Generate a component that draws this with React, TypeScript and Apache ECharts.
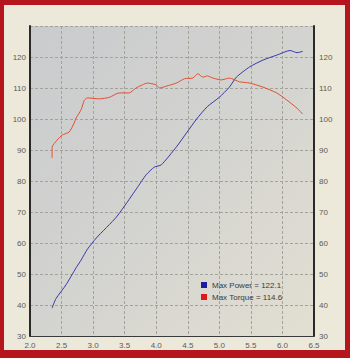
import React, { useEffect, useRef } from "react";
import * as echarts from "echarts";

const rpm = [2.35, 2.41, 2.57, 2.73, 2.81, 2.91, 3.05, 3.37, 3.62, 3.78, 3.84, 3.97, 4.08, 4.32, 4.48, 4.64, 4.81, 5.0, 5.16, 5.27, 5.48, 5.69, 5.91, 6.12, 6.23, 6.32];
const power = [39, 42, 46.5, 52, 54.5, 58, 61.6, 68.4, 75.5, 80.3, 82, 84.5, 85.2, 91, 95.5, 100, 104, 107, 110.3, 113.5, 116.8, 119, 120.6, 122.1, 121.4, 121.8];

const torqueRpm = [2.35, 2.35, 2.43, 2.51, 2.62, 2.7, 2.73, 2.81, 2.86, 2.91, 3.1, 3.26, 3.41, 3.57, 3.68, 3.78, 3.86, 4.0, 4.05, 4.16, 4.32, 4.45, 4.58, 4.66, 4.74, 4.81, 4.9, 5.03, 5.16, 5.32, 5.48, 5.69, 5.91, 6.07, 6.23, 6.32];
const torque = [87.4, 90.9, 93.2, 94.8, 95.8, 98.7, 100.3, 103, 106, 106.8, 106.5, 107, 108.4, 108.4, 110, 111, 111.6, 111, 110, 110.6, 111.6, 113, 113.2, 114.6, 113.5, 113.9, 113.2, 112.6, 113.2, 112, 111.6, 110.3, 108.4, 106.1, 103.5, 101.6];

const seriesNames = ["Max Power = 122.1", "Max Torque = 114.6"];

export default function App() {
  const ref = useRef<HTMLDivElement>(null);
  useEffect(() => {
    if (!ref.current) return;
    const chart = echarts.init(ref.current, null, { renderer: "svg" });
    const labelStyle = { fontFamily: "Liberation Sans", fontSize: 8, color: "#5a5a55" };
    const gridLine = { show: true, lineStyle: { color: "#a3a39c", type: [3, 2], width: 1 } };
    const yAxisCommon = {
      type: "value" as const,
      min: 30,
      max: 130,
      interval: 10,
      axisTick: { show: false },
      splitLine: gridLine,
      axisLabel: {
        ...labelStyle,
        formatter: (v: number) => (v >= 130 ? "" : String(v)),
      },
    };
    chart.setOption({
      animation: false,
      backgroundColor: "#b5151c",
      graphic: [
        { type: "rect", shape: { x: 4, y: 5, width: 341, height: 345 }, style: { fill: "#ece9db" }, z: -10 },
      ],
      grid: {
        left: 30,
        right: 36,
        top: 26,
        bottom: 22,
        show: true,
        borderWidth: 0,
        backgroundColor: {
          type: "linear", x: 0, y: 0, x2: 1, y2: 1,
          colorStops: [
            { offset: 0, color: "#c9cbcd" },
            { offset: 0.5, color: "#d3d3d0" },
            { offset: 1, color: "#e2dfd2" },
          ],
        },
      },
      legend: {
        orient: "vertical",
        left: 196,
        top: 276,
        itemWidth: 6,
        itemHeight: 6,
        itemGap: 4,
        icon: "rect",
        textStyle: { fontFamily: "Liberation Sans", fontSize: 8, color: "#3a3a3a" },
        data: seriesNames,
      },
      xAxis: {
        type: "value",
        min: 2,
        max: 6.5,
        interval: 0.5,
        axisLine: { show: true, lineStyle: { color: "#3a3a3a", width: 1 } },
        axisTick: { show: false },
        splitLine: gridLine,
        axisLabel: { ...labelStyle, margin: 5, formatter: (v: number) => v.toFixed(1), showMinLabel: true, showMaxLabel: true },
      },
      yAxis: [
        { ...yAxisCommon, position: "left", axisLine: { show: true, lineStyle: { color: "#2a2a2a", width: 2 } }, axisLabel: { ...yAxisCommon.axisLabel, margin: 4 } },
        { ...yAxisCommon, position: "right", axisLine: { show: true, lineStyle: { color: "#2a2a2a", width: 2 } }, axisLabel: { ...yAxisCommon.axisLabel, margin: 5 } },
      ],
      series: [
        {
          name: seriesNames[0],
          type: "line",
          data: rpm.map((r, i) => [r, power[i]]),
          showSymbol: false,
          smooth: 0.2,
          color: "#1e1e9a",
          lineStyle: { width: 1, color: "#3838a8" },
        },
        {
          name: seriesNames[1],
          type: "line",
          data: torqueRpm.map((r, i) => [r, torque[i]]),
          showSymbol: false,
          smooth: 0.2,
          color: "#e01818",
          lineStyle: { width: 1, color: "#e4502e" },
        },
      ],
    });
    return () => chart.dispose();
  }, []);
  return (
    <div
      ref={ref}
      style={{ position: "fixed", left: 0, top: 0, width: 350, height: 358 }}
    />
  );
}
